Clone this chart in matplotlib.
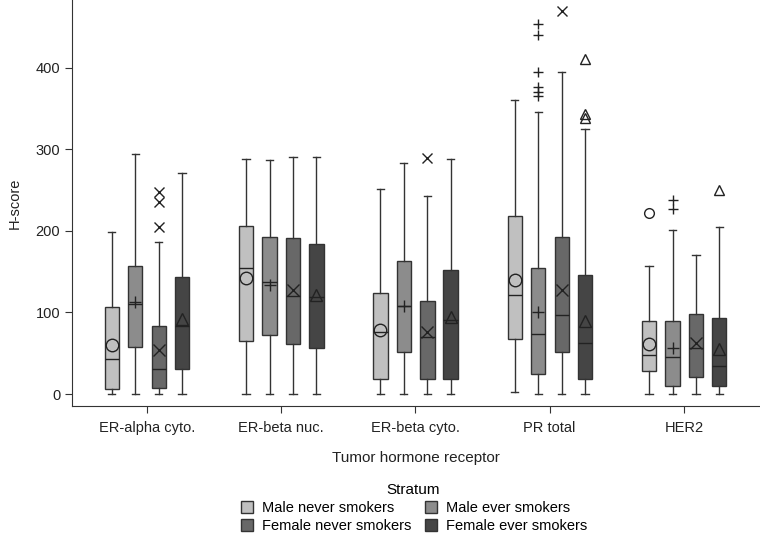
import matplotlib
matplotlib.use("Agg")
import matplotlib.pyplot as plt
from matplotlib.lines import Line2D

plt.rcParams['font.family'] = ['Liberation Sans', 'DejaVu Sans']
plt.rcParams['font.size'] = 10.5

# --- Data ---
receptors = ['ER-alpha cyto.', 'ER-beta nuc.', 'ER-beta cyto.', 'PR total', 'HER2']
strata = ['Male never smokers', 'Male ever smokers',
          'Female never smokers', 'Female ever smokers']

# one list per stratum, one value per receptor
male_never_lo = [0, 0, 0, 3, 0]
male_never_q1 = [6, 65, 18, 68, 28]
male_never_med = [43, 154, 76, 121, 48]
male_never_q3 = [107, 206, 124, 219, 90]
male_never_hi = [199, 288, 252, 361, 157]
male_never_mean = [60, 142, 79, 140, 61]
male_never_out = [[], [], [], [], [222]]

male_ever_lo = [0, 0, 0, 0, 0]
male_ever_q1 = [58, 72, 51, 25, 10]
male_ever_med = [110, 138, 108, 74, 45]
male_ever_q3 = [157, 193, 163, 155, 90]
male_ever_hi = [294, 287, 284, 346, 201]
male_ever_mean = [113, 134, 108, 101, 57]
male_ever_out = [[], [], [], [454, 440, 395, 377, 370, 366], [238, 227]]

female_never_lo = [0, 0, 0, 0, 0]
female_never_q1 = [7, 61, 18, 51, 21]
female_never_med = [31, 120, 70, 97, 56]
female_never_q3 = [84, 192, 114, 193, 98]
female_never_hi = [187, 291, 243, 395, 171]
female_never_mean = [54, 128, 76, 128, 62]
female_never_out = [[248, 236, 205], [], [290], [470], []]

female_ever_lo = [0, 0, 0, 0, 0]
female_ever_q1 = [31, 57, 18, 18, 10]
female_ever_med = [83, 119, 91, 63, 34]
female_ever_q3 = [143, 184, 152, 146, 93]
female_ever_hi = [271, 291, 288, 325, 205]
female_ever_mean = [92, 121, 95, 90, 55]
female_ever_out = [[], [], [], [411, 344, 339], [250]]

stats_by_stratum = [
    (male_never_lo, male_never_q1, male_never_med, male_never_q3, male_never_hi, male_never_mean, male_never_out),
    (male_ever_lo, male_ever_q1, male_ever_med, male_ever_q3, male_ever_hi, male_ever_mean, male_ever_out),
    (female_never_lo, female_never_q1, female_never_med, female_never_q3, female_never_hi, female_never_mean, female_never_out),
    (female_ever_lo, female_ever_q1, female_ever_med, female_ever_q3, female_ever_hi, female_ever_mean, female_ever_out),
]

colors = ['#c0c0c0', '#8c8c8c', '#686868', '#454545']
markers = ['o', '+', 'x', '^']
offsets = [-0.26, -0.085, 0.09, 0.263]
box_w = 0.107
edge = '#333333'

fig = plt.figure(figsize=(7.6, 5.33), dpi=100)
ax = fig.add_axes([0.0947, 0.2383, 0.9053, 0.7617])

for s, (lo, q1, med, q3, hi, mean, out) in enumerate(stats_by_stratum):
    stats = []
    for i in range(len(receptors)):
        stats.append({'whislo': lo[i], 'q1': q1[i], 'med': med[i], 'q3': q3[i],
                      'whishi': hi[i], 'mean': mean[i], 'fliers': out[i]})
    pos = [i + 1 + offsets[s] for i in range(len(receptors))]
    mk = markers[s]
    ax.bxp(stats, positions=pos, widths=box_w, patch_artist=True,
           showmeans=True, manage_ticks=False,
           boxprops=dict(facecolor=colors[s], edgecolor=edge, linewidth=1.0),
           medianprops=dict(color='#222222', linewidth=1.0),
           whiskerprops=dict(color=edge, linewidth=1.0),
           capprops=dict(color=edge, linewidth=1.0),
           meanprops=dict(marker=mk, markerfacecolor='none', markeredgecolor='#222222',
                          markersize=9, markeredgewidth=1.0),
           flierprops=dict(marker=mk, markerfacecolor='none', markeredgecolor='#222222',
                           markersize=7, markeredgewidth=1.0, linestyle='none'))

ax.set_xlim(0.444, 5.566)
ax.set_ylim(-14.7, 483.4)
ax.set_xticks(range(1, len(receptors) + 1))
ax.set_xticklabels(receptors)
ax.set_yticks([0, 100, 200, 300, 400])
ax.spines['top'].set_visible(False)
ax.spines['right'].set_visible(False)
for sp in ['left', 'bottom']:
    ax.spines[sp].set_color('#333333')
ax.tick_params(colors='#333333', labelcolor='#222222', length=5, labelsize=10.5)
ax.tick_params(axis='x', pad=6)
ax.set_ylabel('H-score', fontsize=10.5, color='#222222', labelpad=10)
ax.set_xlabel('Tumor hormone receptor', fontsize=11, color='#222222', labelpad=11)

handles = [Line2D([], [], marker='s', linestyle='none', markersize=8,
                  markerfacecolor=c, markeredgecolor=edge) for c in colors]
order = [0, 2, 1, 3]
leg = fig.legend([handles[i] for i in order], [strata[i] for i in order],
                 title='Stratum', ncol=2, frameon=False,
                 loc='upper center', bbox_to_anchor=(0.543, 0.108),
                 fontsize=10.5, title_fontsize=11, handletextpad=0.4,
                 handlelength=1.2, columnspacing=0.8, labelspacing=0.3,
                 borderpad=0.0)
leg._legend_box.sep = 3

fig.savefig('out.png', dpi=100)
